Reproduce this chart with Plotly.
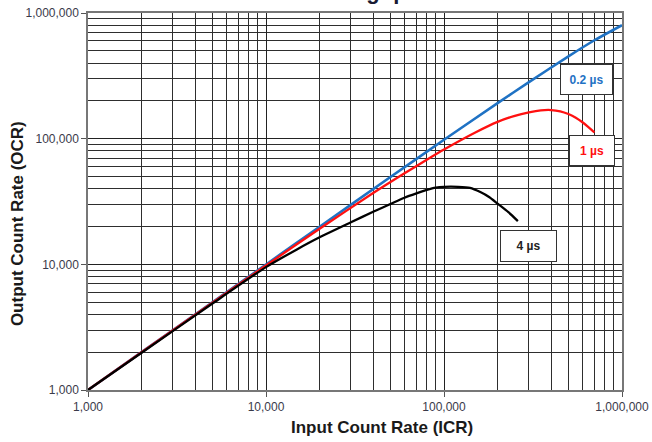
import plotly.graph_objects as go

# ---- data ----
icr_02 = [1000, 2000, 5000, 10000, 20000, 50000, 100000, 200000, 300000, 500000, 700000, 1000000]
ocr_02 = [1000, 2000, 4990, 9980, 19900, 49500, 98000, 192000, 282000, 452000, 607000, 800000]

icr_1 = [1000, 2000, 5000, 10000, 20000, 40000, 60000, 80000, 100000, 150000, 200000,
         250000, 300000, 350000, 400000, 450000, 500000, 550000, 600000, 650000, 700000]
ocr_1 = [1000, 1995, 4950, 9800, 19200, 36900, 53000, 68000, 82000, 112000, 136000,
         152000, 162000, 168000, 169000, 165000, 157000, 147000, 135000, 123000, 112000]

icr_4 = [1000, 2000, 5000, 10000, 15000, 20000, 30000, 40000, 50000, 60000, 70000, 80000,
         90000, 100000, 120000, 140000, 160000, 180000, 200000, 230000, 260000]
ocr_4 = [1000, 1980, 4875, 9500, 13200, 16400, 21600, 26200, 30200, 33900, 36700, 39100,
         40800, 41400, 41400, 40600, 37600, 34200, 30400, 26000, 22100]

tick_vals = [1000, 10000, 100000, 1000000]
tick_text = ["1,000", "10,000", "100,000", "1,000,000"]

series_names = ["0.2 µs", "1 µs", "4 µs"]
series_colors = ["#1f72c4", "#ff1010", "#000000"]

FONT = "Liberation Sans, Arial, sans-serif"

fig = go.Figure()
for xs, ys, name, col, w in [(icr_02, ocr_02, series_names[0], series_colors[0], 2.6),
                              (icr_1, ocr_1, series_names[1], series_colors[1], 2.3),
                              (icr_4, ocr_4, series_names[2], series_colors[2], 2.3)]:
    fig.add_trace(go.Scatter(x=xs, y=ys, mode="lines", name=name,
                             line=dict(color=col, width=w, shape="spline", smoothing=0.6),
                             showlegend=False, hoverinfo="skip"))

axis_common = dict(
    type="log", tickmode="array", tickvals=tick_vals, ticktext=tick_text,
    showgrid=True, gridcolor="#222222", gridwidth=1.2,
    minor=dict(showgrid=True, gridcolor="#2e2e2e", gridwidth=1.2, dtick="D1", ticks=""),
    showline=True, linecolor="#777", linewidth=1.5, mirror=True,
    ticks="outside", ticklen=5, tickcolor="#555",
    tickfont=dict(family=FONT, size=12, color="#3a3a4a"),
    zeroline=False, automargin=False,
)

fig.update_xaxes(range=[3, 6], **axis_common)
fig.update_yaxes(range=[3, 6], **axis_common)

box_specs = [
    (series_names[0], series_colors[0], 0.934, 0.824, 45, 23),
    (series_names[1], series_colors[1], 0.943, 0.636, 38, 23),
    (series_names[2], "#222222", 0.825, 0.381, 49, 24),
]
for txt, col, px, py, w, h in box_specs:
    fig.add_annotation(x=px, y=py, xref="paper", yref="paper", text="<b>%s</b>" % txt,
                       xanchor="center", yanchor="middle",
                       showarrow=False, font=dict(family=FONT, size=12, color=col),
                       bgcolor="white", bordercolor="#333", borderwidth=1,
                       borderpad=3, width=w, height=h, align="center", valign="middle")

fig.add_annotation(x=0.52, y=1.056, xref="paper", yref="paper", text="<b>Throughput</b>",
                   showarrow=False, font=dict(family=FONT, size=22, color="#1a1a33"),
                   xanchor="center", yanchor="middle")
fig.add_annotation(x=0.55, y=0, xref="paper", yref="paper", yshift=-37,
                   text="<b>Input Count Rate (ICR)</b>", showarrow=False,
                   font=dict(family=FONT, size=17, color="#1a1a1a"),
                   xanchor="center", yanchor="middle")
fig.add_annotation(x=0, y=0.44, xref="paper", yref="paper", xshift=-71,
                   text="<b>Output Count Rate (OCR)</b>", showarrow=False, textangle=-90,
                   font=dict(family=FONT, size=17, color="#1a1a1a"),
                   xanchor="center", yanchor="middle")

fig.update_layout(
    width=652, height=442,
    margin=dict(l=88, r=30, t=13, b=52, autoexpand=False),
    paper_bgcolor="white", plot_bgcolor="white",
    font=dict(family=FONT),
)

fig.write_html("out.html", config={"displayModeBar": False},
               post_script="document.body.style.margin='0px';")
